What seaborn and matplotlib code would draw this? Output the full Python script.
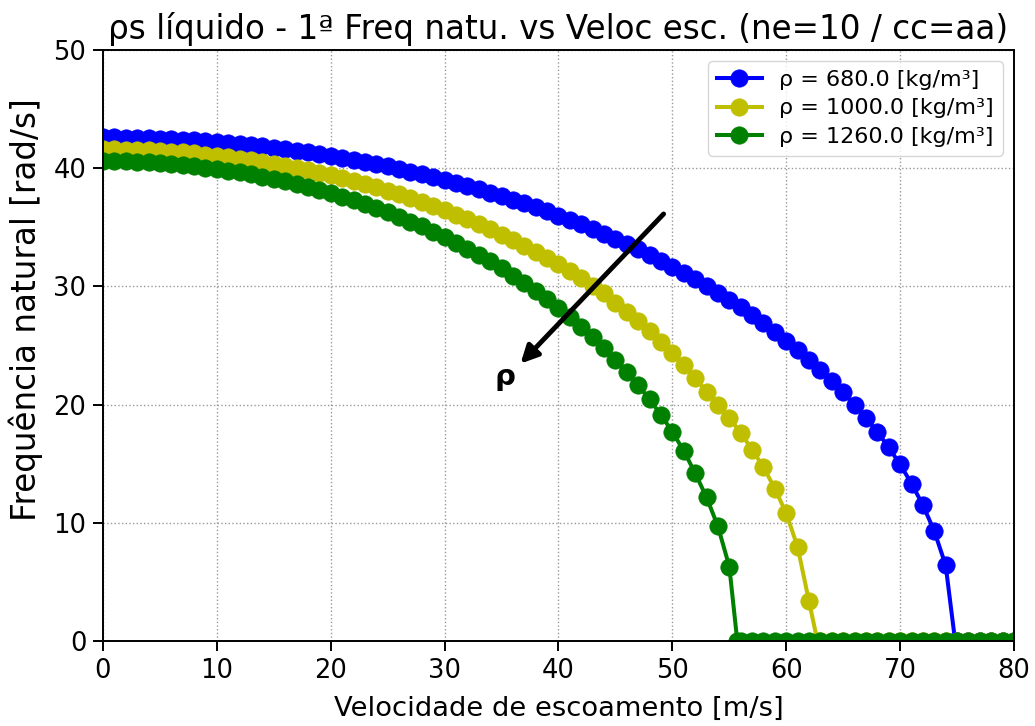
import math
import matplotlib
matplotlib.use("Agg")
import matplotlib.pyplot as plt
import seaborn as sns
import pandas as pd

# ---- data ----
labels = ["ρ = 680.0 [kg/m³]", "ρ = 1000.0 [kg/m³]", "ρ = 1260.0 [kg/m³]"]
colors = ["b", "y", "g"]

# natural frequency at v = 0, 1, 2, ... m/s until instability
freq_680 = [42.60, 42.60, 42.58, 42.57, 42.54, 42.50, 42.46, 42.41, 42.36, 42.29,
            42.22, 42.14, 42.05, 41.95, 41.85, 41.73, 41.61, 41.48, 41.35, 41.20,
            41.05, 40.88, 40.71, 40.53, 40.34, 40.15, 39.94, 39.72, 39.50, 39.26,
            39.02, 38.76, 38.50, 38.22, 37.94, 37.64, 37.33, 37.02, 36.68, 36.34,
            35.99, 35.62, 35.24, 34.85, 34.44, 34.02, 33.58, 33.13, 32.66, 32.17,
            31.67, 31.14, 30.60, 30.04, 29.46, 28.85, 28.22, 27.56, 26.87, 26.16,
            25.41, 24.62, 23.80, 22.93, 22.01, 21.04, 20.00, 18.89, 17.69, 16.38,
            14.94, 13.32, 11.50, 9.30, 6.40]
freq_1000 = [41.60, 41.59, 41.58, 41.55, 41.51, 41.47, 41.41, 41.34, 41.25, 41.16,
             41.06, 40.94, 40.82, 40.68, 40.53, 40.37, 40.20, 40.02, 39.82, 39.61,
             39.39, 39.16, 38.91, 38.65, 38.38, 38.09, 37.79, 37.48, 37.15, 36.80,
             36.44, 36.07, 35.67, 35.26, 34.84, 34.39, 33.92, 33.44, 32.93, 32.41,
             31.86, 31.28, 30.68, 30.06, 29.40, 28.60, 27.85, 27.05, 26.20, 25.30,
             24.35, 23.35, 22.25, 21.10, 20.00, 18.90, 17.60, 16.20, 14.70, 12.90,
             10.80, 7.95, 3.35]
freq_1260 = [40.60, 40.59, 40.57, 40.54, 40.49, 40.44, 40.36, 40.28, 40.18, 40.06,
             39.94, 39.80, 39.64, 39.47, 39.29, 39.09, 38.88, 38.65, 38.41, 38.15,
             37.88, 37.59, 37.28, 36.96, 36.62, 36.26, 35.88, 35.48, 35.07, 34.63,
             34.17, 33.69, 33.19, 32.66, 32.11, 31.53, 30.92, 30.28, 29.61, 28.91,
             28.17, 27.39, 26.57, 25.70, 24.78, 23.80, 22.76, 21.64, 20.44, 19.13,
             17.69, 16.09, 14.20, 12.16, 9.70, 6.30]
# critical velocity (frequency drops to zero)
vcrit = [74.83, 62.74, 55.70]
v_max = 80

x_ticks = [0, 10, 20, 30, 40, 50, 60, 70, 80]
y_ticks = [0, 10, 20, 30, 40, 50]

# ---- build long table ----
rows = []
for lab, fr, vc in zip(labels, [freq_680, freq_1000, freq_1260], vcrit):
    vs = list(range(len(fr))) + [vc] + list(range(math.ceil(vc), v_max + 1))
    fs = list(fr) + [0.0] * (len(vs) - len(fr))
    for v, f in zip(vs, fs):
        rows.append({"serie": lab, "v": v, "f": f})
df = pd.DataFrame(rows)

fig = plt.figure(figsize=(10.35, 7.26), dpi=100)
ax = fig.add_axes([0.0995, 0.1171, 0.8802, 0.8140])

for lab, col in zip(labels, colors):
    d = df[df["serie"] == lab]
    sns.lineplot(data=d, x="v", y="f", sort=False, color=col, marker="o",
                 markersize=12.5, markeredgecolor=col, markeredgewidth=0.5,
                 linewidth=2.9, label=lab, ax=ax, estimator=None)

ax.set_xlim(0, 80)
ax.set_ylim(0, 50)
ax.set_xticks(x_ticks)
ax.set_yticks(y_ticks)
ax.tick_params(labelsize=18.5, length=7, width=1.4, pad=5)
for s in ax.spines.values():
    s.set_linewidth(1.4)
ax.grid(True, linestyle=":", color="#999999", linewidth=1.0)
ax.set_axisbelow(True)

ax.set_title("ρs líquido - 1ª Freq natu. vs Veloc esc. (ne=10 / cc=aa)", fontsize=23.5, pad=8)
ax.set_xlabel("Velocidade de escoamento [m/s]", fontsize=19.7, labelpad=9)
ax.set_ylabel("Frequência natural [rad/s]", fontsize=23.5)
ax.yaxis.set_label_coords(-0.066, 0.56)

ax.annotate("", xy=(36.5, 23.3), xytext=(49.4, 36.3),
            arrowprops=dict(arrowstyle="-|>", color="black", lw=3.5, mutation_scale=26))
ax.text(35.3, 22.3, "ρ", fontsize=21, fontweight="bold", ha="center", va="center")

leg = ax.legend(loc="upper right", fontsize=16, handlelength=2.0, borderpad=0.4,
                labelspacing=0.38, handletextpad=0.8, markerscale=1.0)

fig.savefig("out.png", dpi=100)
